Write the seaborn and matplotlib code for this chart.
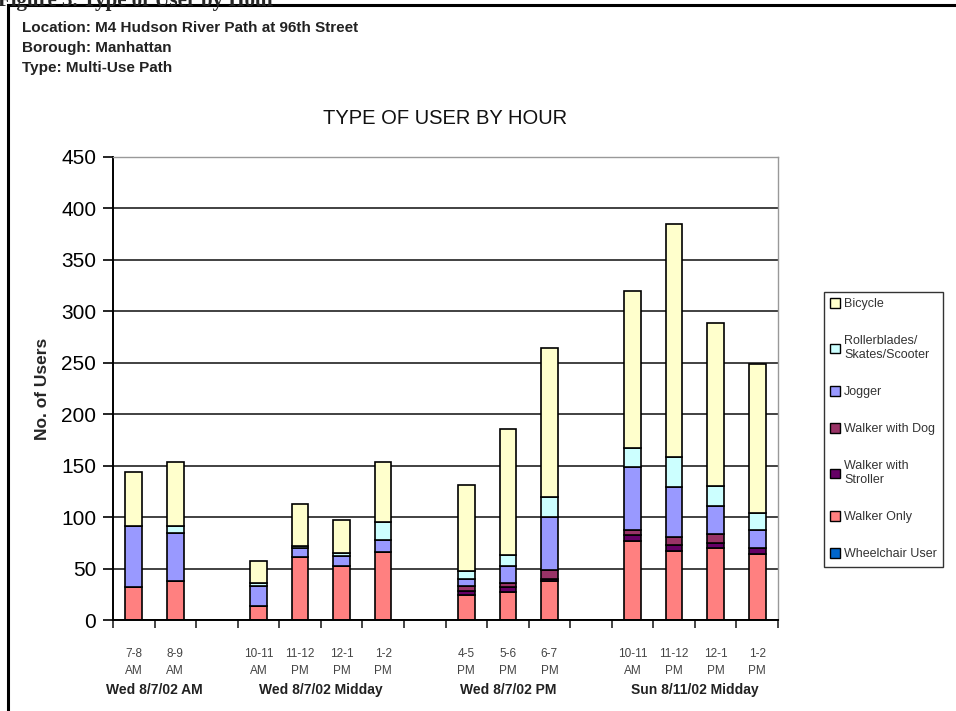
import pandas as pd
import seaborn as sns
import matplotlib.pyplot as plt
import matplotlib.transforms as mtransforms
from matplotlib.patches import Patch, Rectangle

# hour slots (blank slots separate the survey periods)
slots = ["7-8\nAM", "8-9\nAM", "",
         "10-11\nAM", "11-12\nPM", "12-1\nPM", "1-2\nPM", "",
         "4-5\nPM", "5-6\nPM", "6-7\nPM", "",
         "10-11\nAM", "11-12\nPM", "12-1\nPM", "1-2\nPM"]
groups = ["Wed 8/7/02 AM", "Wed 8/7/02 Midday", "Wed 8/7/02 PM", "Sun 8/11/02 Midday"]
group_slots = [(0, 1), (3, 6), (8, 10), (12, 15)]

# counts per user type, one value per slot
wheelchair = [0, 0, 0, 0, 0, 0, 0, 0, 0, 0, 0, 0, 0, 0, 0, 0]
walker_only = [32, 38, 0, 14, 61, 52, 66, 0, 24, 27, 38, 0, 77, 67, 70, 64]
stroller = [0, 0, 0, 0, 0, 0, 0, 0, 4, 5, 2, 0, 6, 6, 5, 6]
dog = [0, 0, 0, 0, 0, 0, 0, 0, 5, 4, 9, 0, 4, 8, 9, 0]
jogger = [59, 47, 0, 19, 9, 10, 12, 0, 7, 16, 51, 0, 62, 48, 27, 17]
roller = [0, 6, 0, 3, 2, 3, 17, 0, 8, 11, 20, 0, 18, 29, 19, 17]
bicycle = [53, 63, 0, 21, 41, 32, 59, 0, 83, 123, 144, 0, 153, 227, 159, 145]

user_types = ["Bicycle", "Rollerblades/\nSkates/Scooter", "Jogger", "Walker with Dog",
              "Walker with\nStroller", "Walker Only", "Wheelchair User"]
series = [bicycle, roller, jogger, dog, stroller, walker_only, wheelchair]
colors = ["#FFFFCC", "#CCFFFF", "#9999FF", "#993366", "#660066", "#FF8080", "#0066CC"]

rows = []
for name, vals in zip(user_types, series):
    for i, v in enumerate(vals):
        rows.append({"slot": i, "type": name, "count": v})
df = pd.DataFrame(rows)

sns.set_style("white")
plt.rcParams["font.family"] = ["Liberation Sans", "DejaVu Sans"]

fig = plt.figure(figsize=(9.56, 7.11), dpi=100)
ax = fig.add_axes([113 / 956, 91 / 711, 665 / 956, 463 / 711])

sns.histplot(data=df, x="slot", weights="count", hue="type", hue_order=user_types,
             multiple="stack", discrete=True, shrink=0.4, palette=dict(zip(user_types, colors)),
             edgecolor="black", linewidth=1.2, alpha=1, legend=False, ax=ax)

ax.set_xlim(-0.5, len(slots) - 0.5)
ax.set_ylim(0, 450)
ax.set_yticks(range(0, 451, 50))
ax.tick_params(axis="y", labelsize=15, direction="out", length=7, width=1.2, left=True,
               colors="black", pad=5)
ax.yaxis.grid(True, color="#333333", linewidth=1.3)
ax.set_axisbelow(True)

ax.set_xticks([i - 0.5 for i in range(len(slots) + 1)])
ax.set_xticklabels([])
ax.tick_params(axis="x", which="major", direction="out", length=6, width=1.2, bottom=True)
ax.set_xticks(range(len(slots)), minor=True)
ax.set_xticklabels(slots, minor=True, fontsize=8.5, color="#444444", linespacing=1.55)
ax.tick_params(axis="x", which="minor", length=0, pad=20)

ax.set_xlabel("")
ax.set_ylabel("No. of Users", fontsize=12.5, fontweight="bold", labelpad=8)
ax.set_title("TYPE OF USER BY HOUR", fontsize=14.5, pad=24, color="#111111")

for s in ["left", "bottom"]:
    ax.spines[s].set_color("black")
    ax.spines[s].set_linewidth(1.4)
for s in ["top", "right"]:
    ax.spines[s].set_visible(True)
    ax.spines[s].set_color("#999999")
    ax.spines[s].set_linewidth(1)

trans = mtransforms.blended_transform_factory(ax.transData, fig.transFigure)
for name, (a, b) in zip(groups, group_slots):
    fig.text((a + b) / 2, 1 - 690 / 711, name, transform=trans, ha="center", va="center",
             fontsize=10, fontweight="bold", color="#222222")

handles = [Patch(facecolor=c, edgecolor="black", label=n) for n, c in zip(user_types, colors)]
leg = fig.legend(handles=handles, loc="upper left", bbox_to_anchor=(824 / 956, 1 - 292 / 711),
                 fontsize=9, frameon=True, fancybox=False, edgecolor="black",
                 labelspacing=2.0, handlelength=0.8, handleheight=0.8, handletextpad=0.3,
                 borderpad=0.5, borderaxespad=0)
leg.get_frame().set_linewidth(1)
for t in leg.get_texts():
    t.set_color("#333333")

# header block
fig.text(22 / 956, 1 - 28 / 711, "Location: M4 Hudson River Path at 96th Street", fontsize=11,
         fontweight="bold", va="center", color="#222222")
fig.text(22 / 956, 1 - 48 / 711, "Borough: Manhattan", fontsize=11, fontweight="bold",
         va="center", color="#222222")
fig.text(22 / 956, 1 - 68 / 711, "Type: Multi-Use Path", fontsize=11, fontweight="bold",
         va="center", color="#222222")
fig.text(-2 / 956, 1 - 1 / 711, "Figure 3. Type of User by Hour", fontsize=15, fontweight="bold",
         family="Liberation Serif", va="center", ha="left")

fig.patches.append(Rectangle((8 / 956, -0.05), 1.0, 1 - 5 / 711 + 0.05, transform=fig.transFigure,
                             fill=False, edgecolor="black", linewidth=2.2))

fig.savefig("out.png", dpi=100)
